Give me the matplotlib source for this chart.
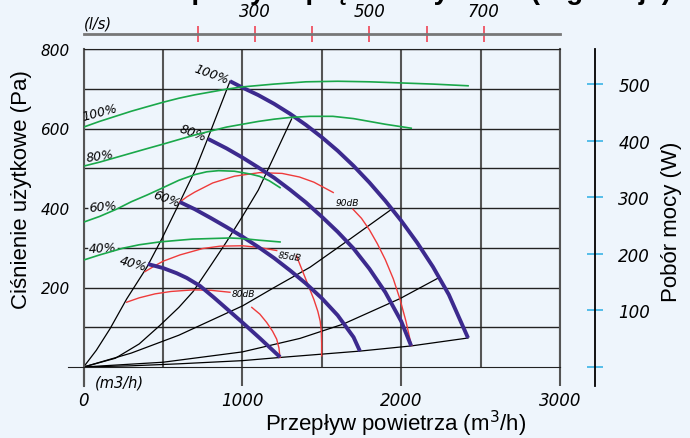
import matplotlib
matplotlib.use('Agg')
import matplotlib.pyplot as plt
import numpy as np

bg = '#eef5fc'
c_fan = '#3c2a8e'
c_pow = '#1aa84a'
c_db = '#ee3b3b'

# fan curves, Q (m3/h) vs P (Pa)
fan100_q = [922, 1000, 1100, 1200, 1300, 1400, 1500, 1600, 1700, 1800, 1900, 2000,
            2100, 2200, 2300, 2400, 2421]
fan100_p = [719, 703, 684, 662, 637, 609, 578, 544, 506, 464, 418, 368,
            313, 252, 182, 92, 73]
fan80_q = [783, 900, 1000, 1100, 1200, 1300, 1400, 1500, 1600, 1700, 1800, 1900, 2000, 2063]
fan80_p = [574, 550, 527, 502, 476, 446, 414, 378, 340, 298, 247, 188, 115, 53]
fan60_q = [606, 700, 800, 900, 1000, 1100, 1200, 1300, 1400, 1500, 1600, 1700, 1740]
fan60_p = [415, 397, 375, 352, 328, 302, 274, 243, 210, 173, 130, 75, 40]
fan40_q = [405, 500, 586, 650, 733, 820, 903, 1000, 1111, 1237]
fan40_p = [259, 249, 236, 224, 204, 175, 146, 112, 72, 25]

# system curves (black)
sysA_q = [0, 80, 166, 271, 397, 492, 606, 700, 781, 850, 922]
sysA_p = [0, 42, 96, 171, 250, 322, 415, 493, 574, 645, 719]
sysB_q = [0, 200, 350, 479, 600, 690, 800, 900, 1002, 1100, 1200, 1310]
sysB_p = [0, 22, 58, 104, 150, 190, 255, 315, 380, 445, 530, 624]
sysC_q = [0, 300, 600, 1002, 1200, 1426, 1678, 1940]
sysC_p = [0, 35, 80, 154, 200, 251, 322, 397]
sysD_q = [0, 500, 1000, 1363, 1635, 1992, 2234]
sysD_p = [0, 12, 38, 72, 108, 172, 224]
sysE_q = [0, 300, 600, 1000, 1237, 1426, 1740, 2063, 2421]
sysE_p = [0, 3, 8, 16, 24, 30, 40, 53, 73]

# noise lines (two pieces each, broken by label)
db80a_q = [271, 350, 450, 550, 689, 800, 922]
db80a_p = [163, 174, 184, 190, 194, 193, 188]
db80b_q = [1059, 1110, 1153, 1190, 1216, 1230, 1237]
db80b_p = [150, 133, 112, 90, 70, 48, 24]
db85a_q = [387, 450, 500, 607, 750, 859, 1000, 1100, 1216]
db85a_p = [240, 255, 266, 282, 298, 304, 305, 301, 293]
db85b_q = [1340, 1380, 1420, 1450, 1475, 1490, 1497, 1499, 1499]
db85b_p = [280, 240, 200, 170, 140, 115, 90, 60, 28]
db90a_q = [606, 650, 700, 813, 950, 1108, 1250, 1359, 1450, 1572]
db90a_p = [415, 428, 440, 463, 480, 489, 487, 478, 465, 439]
db90b_q = [1696, 1750, 1800, 1850, 1900, 1950, 1992, 2030, 2055, 2066]
db90b_p = [397, 374, 345, 310, 270, 222, 171, 115, 70, 54]

# power curves, W
pow100_q = [0, 100, 200, 300, 400, 502, 600, 700, 800, 900, 1000, 1200, 1400,
            1600, 1800, 2000, 2200, 2421]
pow100_w = [424, 434, 443, 452, 460, 468, 475, 481, 486, 491, 495, 500, 504,
            505, 504, 502, 500, 497]
pow80_q = [0, 100, 200, 300, 400, 502, 600, 700, 800, 900, 1000, 1100, 1200,
           1300, 1426, 1570, 1700, 1800, 1900, 2063]
pow80_w = [355, 362, 370, 378, 386, 394, 402, 410, 417, 424, 429, 434, 438,
           441, 443, 443, 439, 434, 429, 422]
pow60_q = [0, 100, 208, 300, 400, 478, 600, 700, 775, 850, 950, 1050, 1108, 1170, 1237]
pow60_w = [256, 266, 279, 292, 304, 314, 330, 340, 345, 347, 346, 341, 337, 329, 317]
pow40_q = [0, 100, 248, 350, 478, 600, 686, 800, 922, 1000, 1108, 1237]
pow40_w = [189, 198, 210, 216, 221, 224, 226, 227, 228, 227, 224, 221]

x_major = [0, 1000, 2000, 3000]
x_minor = [500, 1500, 2500]
y_major = [200, 400, 600, 800]
y_minor = [100, 300, 500, 700]
ls_ticks = [200, 300, 400, 500, 600, 700]
w_ticks = [0, 100, 200, 300, 400, 500]

it = dict(family='DejaVu Sans', style='italic')

fig = plt.figure(figsize=(6.9, 4.39), dpi=100, facecolor=bg)
ax = fig.add_axes([83.6 / 690, 71 / 439, 476.4 / 690, 318 / 439])
ax.set_facecolor(bg)
ax.set_xlim(0, 3000)
ax.set_ylim(0, 800)

ax.set_xticks(x_major)
ax.set_xticks(x_minor, minor=True)
ax.set_yticks(y_major)
ax.set_yticks(y_minor, minor=True)
ax.grid(axis='x', which='both', color='#555555', lw=1.5)
ax.grid(axis='y', which='both', color='#222222', lw=1.0)
ax.set_axisbelow(True)
ax.tick_params(axis='x', which='major', direction='out', length=13.7, width=1.5,
               color='#555555', pad=3.5, labelsize=12)
ax.tick_params(axis='x', which='minor', length=0)
ax.tick_params(axis='y', which='both', length=0, pad=10, labelsize=11)
for lab in ax.get_xticklabels() + ax.get_yticklabels():
    lab.set_fontstyle('italic')
    lab.set_family('DejaVu Sans')

ax.spines['left'].set_bounds(-48, 800)
ax.spines['left'].set_color('#555555')
ax.spines['left'].set_linewidth(1.5)
ax.spines['bottom'].set_bounds(-98, 3000)
ax.spines['bottom'].set_color('#222222')
ax.spines['top'].set_color('#222222')
ax.spines['right'].set_color('#555555')
ax.spines['right'].set_linewidth(1.5)

# black system curves
for q, p in [(sysA_q, sysA_p), (sysB_q, sysB_p), (sysC_q, sysC_p),
             (sysD_q, sysD_p), (sysE_q, sysE_p)]:
    ax.plot(q, p, color='black', lw=0.9)

# red noise lines
for q, p in [(db80a_q, db80a_p), (db80b_q, db80b_p), (db85a_q, db85a_p),
             (db85b_q, db85b_p), (db90a_q, db90a_p), (db90b_q, db90b_p)]:
    ax.plot(q, p, color=c_db, lw=1.0)

# fan curves
for q, p in [(fan100_q, fan100_p), (fan80_q, fan80_p),
             (fan60_q, fan60_p), (fan40_q, fan40_p)]:
    ax.plot(q, p, color=c_fan, lw=2.8, solid_capstyle='butt')

# labels on curves
ax.text(802, 737, '100%', rotation=-20, ha='center', va='center', fontsize=9, **it)
ax.text(689, 589, '80%', rotation=-20, ha='center', va='center', fontsize=9, **it)
ax.text(525, 425, '60%', rotation=-20, ha='center', va='center', fontsize=9, **it)
ax.text(311, 262, '40%', rotation=-15, ha='center', va='center', fontsize=9, **it)
box = dict(facecolor=bg, edgecolor='none', pad=0.5)
ax.text(103, 641, '100%', rotation=15, ha='center', va='center', fontsize=9, **it)
ax.text(103, 533, '80%', rotation=8, ha='center', va='center', fontsize=9, **it)
ax.text(122, 405, '60%', rotation=5, ha='center', va='center', fontsize=9, bbox=box, **it)
ax.text(122, 299, '40%', rotation=3, ha='center', va='center', fontsize=9, bbox=box, **it)
ax.text(1005, 184, '80dB', ha='center', va='center', fontsize=6.5, **it)
ax.text(1300, 279, '85dB', rotation=-8, ha='center', va='center', fontsize=6.5, **it)
ax.text(1659, 415, '90dB', ha='center', va='center', fontsize=6.5, **it)
ax.text(224, -38, '(m3/h)', ha='center', va='center', fontsize=10.5, clip_on=False, **it)

# top axis in l/s
sec = ax.secondary_xaxis(1 + 15 / 318, functions=(lambda q: q / 3.6, lambda l: l * 3.6))
sec.set_xticks(ls_ticks)
sec.set_xticklabels([str(v) if v in (300, 500, 700) else '' for v in ls_ticks])
sec.tick_params(direction='inout', length=11.5, width=1.2, color='#ee4455',
                labelsize=12, pad=4)
for lab in sec.get_xticklabels():
    lab.set_fontstyle('italic')
sec.spines['top'].set_color('#777777')
sec.spines['top'].set_linewidth(2)
fig.text(98 / 690, 1 - 24 / 439, '(l/s)', ha='center', va='center', fontsize=10.5, **it)

# power axis
tw = ax.twinx()
tw.set_ylim(0, 562)
for q, w in [(pow100_q, pow100_w), (pow80_q, pow80_w),
             (pow60_q, pow60_w), (pow40_q, pow40_w)]:
    tw.plot(q, w, color=c_pow, lw=1.2)
for s in ['top', 'left', 'bottom']:
    tw.spines[s].set_visible(False)
tw.spines['right'].set_position(('axes', (595 - 83.6) / 476.4))
tw.spines['right'].set_bounds(-34, 562)
tw.spines['right'].set_linewidth(1.3)
tw.set_yticks(w_ticks)
tw.set_yticklabels([str(v) if v else '' for v in w_ticks])
tw.tick_params(axis='y', direction='inout', length=11.5, width=1.2, color='#3ab4e6',
               labelsize=12, pad=11)
for lab in tw.get_yticklabels():
    lab.set_fontstyle('italic')

# axis titles
fig.text(22 / 690, 1 - 190 / 439, 'Ciśnienie użytkowe (Pa)', rotation=90,
         ha='center', va='center', fontsize=16, family='Liberation Sans')
fig.text(396 / 690, 1 - 431 / 439, 'Przepływ powietrza (m$^3$/h)',
         ha='center', va='baseline', fontsize=16, family='Liberation Sans')
fig.text(671 / 690, 1 - 222 / 439, 'Pobór mocy (W)', rotation=90,
         ha='center', va='center', fontsize=16, family='Liberation Sans')

# title, cut off by the top edge as in the source image
fig.text(380 / 690, 1 + 1 / 439, 'Obszar pracy - spręż od wydatku (regulacja)',
         ha='center', va='baseline', fontsize=20, fontweight='bold',
         family='Liberation Sans')

fig.savefig('out.png', dpi=100, facecolor=bg)
